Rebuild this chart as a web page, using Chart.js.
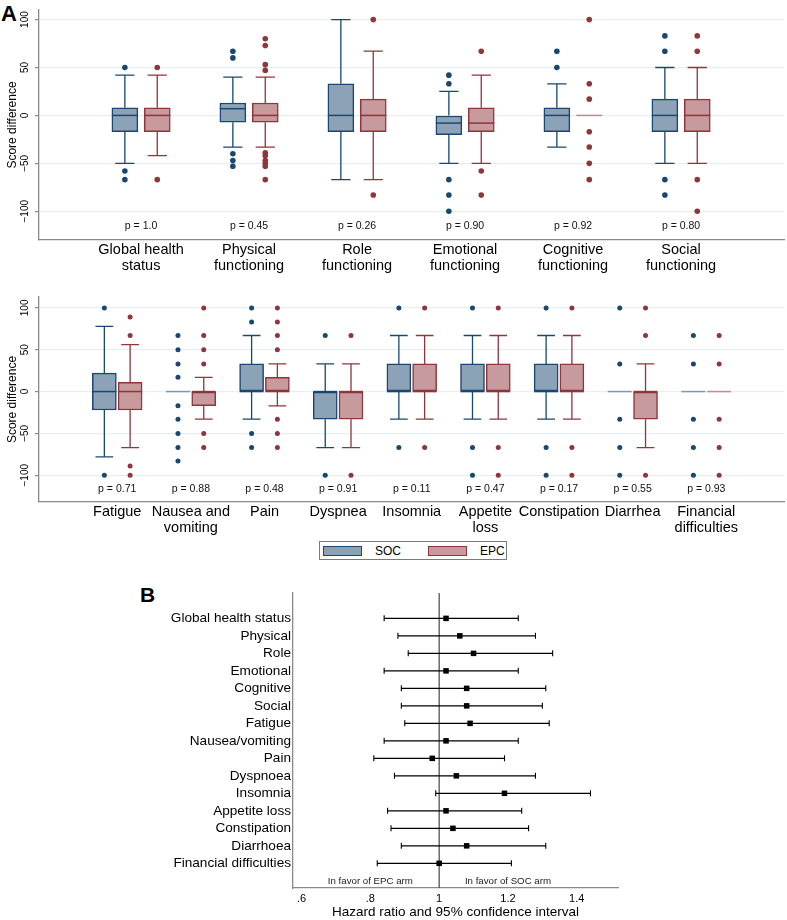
<!DOCTYPE html>
<html>
<head>
<meta charset="utf-8">
<script src="https://cdn.jsdelivr.net/npm/chart.js@4.4.1/dist/chart.umd.min.js"></script>
<style>
  body { margin: 0; background: #fff; font-family: 'Liberation Sans', Arial, Helvetica, sans-serif; }
  #wrap { position: relative; width: 787px; height: 920px; overflow: hidden; }
  canvas { position: absolute; left: 0; }
  .panel { position: absolute; font-weight: bold; color: #000; }
  #legend { position: absolute; left: 319px; top: 541px; width: 188px; height: 19px; box-sizing: border-box; border: 1px solid #7a7a7a; font-size: 12px; }
  #legend .sw { position: absolute; top: 4px; width: 37px; height: 8px; border: 1.5px solid; }
  #legend .lt { position: absolute; top: 2px; }
</style>
</head>
<body>
<div id="wrap">
  <div class="panel" style="left:1px;top:1px;font-size:22px;">A</div>
  <canvas id="top" width="787" height="275" style="top:0"></canvas>
  <canvas id="bottom" width="787" height="255" style="top:280px"></canvas>
  <div id="legend"></div>
  <div class="panel" style="left:140px;top:583px;font-size:21px;">B</div>
  <canvas id="forest" width="787" height="345" style="top:575px"></canvas>
</div>
<script>
// ---- panel A, top row ----
const domainsTop = [['Global health', 'status'], ['Physical', 'functioning'], ['Role', 'functioning'],
  ['Emotional', 'functioning'], ['Cognitive', 'functioning'], ['Social', 'functioning']];
const pTop = ['p = 1.0', 'p = 0.45', 'p = 0.26', 'p = 0.90', 'p = 0.92', 'p = 0.80'];
// [lower whisker, q1, median, q3, upper whisker]
const socTop = [[-50, -17, 0, 8, 42], [-33, -7, 7, 13, 40], [-67, -17, 0, 33, 100],
  [-50, -20, -8, 0, 25], [-33, -17, 0, 8, 33], [-50, -17, 0, 17, 50]];
const epcTop = [[-42, -17, 0, 8, 42], [-33, -7, 0, 13, 40], [-67, -17, 0, 17, 67],
  [-50, -17, -8, 8, 42], [0, 0, 0, 0, 0], [-50, -17, 0, 17, 50]];
const socTopOut = [[50, -58, -67], [67, 60, -40, -47, -53], [], [42, 33, -67, -83, -100], [67, 50], [83, 67, -67, -83]];
const epcTopOut = [[50, -67], [80, 73, 53, 47, -39, -42, -47, -50, -53, -67], [100, -83], [67, -58, -83],
  [100, 33, 17, -17, -33, -50, -67], [83, 67, -67, -100]];

// ---- panel A, bottom row ----
const domainsBottom = [['Fatigue'], ['Nausea and', 'vomiting'], ['Pain'], ['Dyspnea'], ['Insomnia'],
  ['Appetite', 'loss'], ['Constipation'], ['Diarrhea'], ['Financial', 'difficulties']];
const pBottom = ['p = 0.71', 'p = 0.88', 'p = 0.48', 'p = 0.91', 'p = 0.11', 'p = 0.47', 'p = 0.17', 'p = 0.55', 'p = 0.93'];
const socBottom = [[-78, -22, 0, 22, 78], [0, 0, 0, 0, 0], [-33, 0, 0, 33, 67], [-67, -33, 0, 0, 33],
  [-33, 0, 0, 33, 67], [-33, 0, 0, 33, 67], [-33, 0, 0, 33, 67], [0, 0, 0, 0, 0], [0, 0, 0, 0, 0]];
const epcBottom = [[-67, -22, 0, 11, 56], [-33, -17, 0, 0, 17], [-17, 0, 0, 17, 33], [-67, -33, 0, 0, 33],
  [-33, 0, 0, 33, 67], [-33, 0, 0, 33, 67], [-33, 0, 0, 33, 67], [-67, -33, 0, 0, 33], [0, 0, 0, 0, 0]];
const socBottomOut = [[100, -100], [67, 50, 33, 17, -17, -33, -50, -67, -83], [100, 83, -50, -67], [67, -100],
  [100, -67], [100, -67, -100], [100, -67, -100], [100, 33, -33, -67, -100], [67, 33, -33, -67, -100]];
const epcBottomOut = [[89, 67, -89, -100], [100, 67, 50, 33, -50, -67], [100, 83, 67, 50, -33, -50, -67], [67, -100],
  [100, -67], [100, -67, -100], [100, -67, -100], [100, 67, -100], [67, 33, -33, -67, -100]];

const scoreTicks = [-100, -50, 0, 50, 100];
const seriesNames = ['SOC', 'EPC'];

// ---- panel B ----
const hrNames = ['Global health status', 'Physical', 'Role', 'Emotional', 'Cognitive', 'Social', 'Fatigue',
  'Nausea/vomiting', 'Pain', 'Dyspnoea', 'Insomnia', 'Appetite loss', 'Constipation', 'Diarrhoea', 'Financial difficulties'];
const hrEst = [1.02, 1.06, 1.10, 1.02, 1.08, 1.08, 1.09, 1.02, 0.98, 1.05, 1.19, 1.02, 1.04, 1.08, 1.00];
const hrLow = [0.84, 0.88, 0.91, 0.84, 0.89, 0.89, 0.90, 0.84, 0.81, 0.87, 0.99, 0.85, 0.86, 0.89, 0.82];
const hrHigh = [1.23, 1.28, 1.33, 1.23, 1.31, 1.30, 1.32, 1.23, 1.19, 1.28, 1.44, 1.24, 1.26, 1.31, 1.21];
const hrTicks = [0.6, 0.8, 1, 1.2, 1.4];
const favorText = ['In favor of EPC arm', 'In favor of SOC arm'];

const FONT = "'Liberation Sans', Arial, Helvetica, sans-serif";
Chart.defaults.font.family = FONT;
Chart.defaults.color = '#000';

const NAVY = '#1a476f', NAVY_FILL = '#8ca3b7', NAVY_MID = '#7f98b0';
const MAROON = '#90353b', MAROON_FILL = '#c79a9d', MAROON_MID = '#c48a8e';
const AXIS = '#8a8a8a';

// legend
const legend = document.getElementById('legend');
[[NAVY_FILL, NAVY, 3, 55], [MAROON_FILL, MAROON, 108, 160]].forEach(([fill, line, sx, tx], k) => {
  legend.insertAdjacentHTML('beforeend',
    `<span class="sw" style="left:${sx}px;background:${fill};border-color:${line}"></span>` +
    `<span class="lt" style="left:${tx}px">${seriesNames[k]}</span>`);
});

function boxPlugin(cfg) {
  return {
    id: 'boxparts',
    afterDatasetsDraw(chart) {
      const { ctx, scales: { x, y } } = chart;
      const half = cfg.boxW / 2, cap = cfg.boxW * 0.37;
      ctx.save();
      [[cfg.soc, -cfg.off, NAVY, NAVY_MID], [cfg.epc, cfg.off, MAROON, MAROON_MID]].forEach(([stats, off, col, mid]) => {
        stats.forEach((s, i) => {
          const [lo, q1, med, q3, hi] = s;
          const cx = x.getPixelForValue(i + off);
          if (q1 === q3) {
            ctx.strokeStyle = mid;
            ctx.lineWidth = 1.5;
            ctx.beginPath();
            ctx.moveTo(cx - half, y.getPixelForValue(med));
            ctx.lineTo(cx + half, y.getPixelForValue(med));
            ctx.stroke();
            return;
          }
          ctx.strokeStyle = col;
          ctx.lineWidth = 1.3;
          ctx.beginPath();
          ctx.moveTo(cx, y.getPixelForValue(q3)); ctx.lineTo(cx, y.getPixelForValue(hi));
          ctx.moveTo(cx - cap, y.getPixelForValue(hi)); ctx.lineTo(cx + cap, y.getPixelForValue(hi));
          ctx.moveTo(cx, y.getPixelForValue(q1)); ctx.lineTo(cx, y.getPixelForValue(lo));
          ctx.moveTo(cx - cap, y.getPixelForValue(lo)); ctx.lineTo(cx + cap, y.getPixelForValue(lo));
          ctx.stroke();
          ctx.lineWidth = 1.5;
          ctx.beginPath();
          ctx.moveTo(cx - half, y.getPixelForValue(med)); ctx.lineTo(cx + half, y.getPixelForValue(med));
          ctx.stroke();
        });
      });
      ctx.fillStyle = '#111';
      ctx.font = '10.5px ' + FONT;
      ctx.textAlign = 'center';
      ctx.textBaseline = 'middle';
      cfg.pvals.forEach((p, i) => ctx.fillText(p, x.getPixelForValue(i), y.getPixelForValue(-116)));
      ctx.restore();
    }
  };
}

function makeBoxChart(id, cfg) {
  const boxes = (stats, off) => stats.flatMap((s, i) => s[1] === s[3] ? [] : [{ x: i + off, y: [s[1], s[3]] }]);
  const outs = (lists, off) => lists.flatMap((arr, i) => arr.map(v => ({ x: i + off, y: v })));
  const barStyle = { type: 'bar', borderWidth: 1.5, borderSkipped: false, grouped: false,
    barPercentage: 1, categoryPercentage: 1, maxBarThickness: cfg.boxW };
  const dotStyle = { type: 'scatter', borderWidth: 0, pointRadius: cfg.r, pointHoverRadius: cfg.r };
  new Chart(document.getElementById(id), {
    type: 'bar',
    data: {
      datasets: [
        { ...barStyle, label: seriesNames[0], data: boxes(cfg.soc, -cfg.off), backgroundColor: NAVY_FILL, borderColor: NAVY },
        { ...barStyle, label: seriesNames[1], data: boxes(cfg.epc, cfg.off), backgroundColor: MAROON_FILL, borderColor: MAROON },
        { ...dotStyle, data: outs(cfg.socOut, -cfg.off), backgroundColor: NAVY },
        { ...dotStyle, data: outs(cfg.epcOut, cfg.off), backgroundColor: MAROON }
      ]
    },
    options: {
      responsive: false,
      animation: false,
      events: [],
      layout: { padding: { top: cfg.padTop, right: 0, left: 0, bottom: 0 } },
      plugins: { legend: { display: false }, tooltip: { enabled: false } },
      scales: {
        x: {
          type: 'linear', min: cfg.xMin, max: cfg.xMax,
          afterBuildTicks: s => { s.ticks = cfg.domains.map((d, i) => ({ value: i })); },
          afterFit: s => { s.height = cfg.xAxisH; },
          grid: { display: false, drawTicks: false },
          border: { display: true, color: AXIS, width: 1.3 },
          ticks: { callback: v => cfg.domains[v], font: { size: 14.5, lineHeight: 1.1 }, color: '#000',
            padding: 2, maxRotation: 0, autoSkip: false }
        },
        y: {
          type: 'linear', min: cfg.yMin, max: cfg.yMax,
          afterBuildTicks: s => { s.ticks = scoreTicks.map(v => ({ value: v })); },
          afterFit: s => { s.width = 39; },
          grid: { color: '#e6eff1', lineWidth: 1.2, tickColor: AXIS, tickLength: 4 },
          border: { color: AXIS, width: 1.3 },
          ticks: { font: { size: 10 }, color: '#000', minRotation: 90, maxRotation: 90, crossAlign: 'center',
            padding: -2, autoSkip: false, callback: v => v < 0 ? '\u2212' + Math.abs(v) : String(v) },
          title: { display: true, text: 'Score difference', font: { size: 12 }, color: '#000', padding: { top: 5, bottom: 0 } }
        }
      }
    },
    plugins: [boxPlugin(cfg)]
  });
}

makeBoxChart('top', { domains: domainsTop, pvals: pTop, soc: socTop, epc: epcTop, socOut: socTopOut, epcOut: epcTopOut,
  xMin: -0.37, xMax: 5.38, off: 0.15, boxW: 26, r: 2.8, yMin: -130, yMax: 110, padTop: 10, xAxisH: 35 });
makeBoxChart('bottom', { domains: domainsBottom, pvals: pBottom, soc: socBottom, epc: epcBottom, socOut: socBottomOut, epcOut: epcBottomOut,
  xMin: -0.5, xMax: 8.5, off: 0.175, boxW: 24, r: 2.5, yMin: -132, yMax: 113, padTop: 17, xAxisH: 33 });

// ---- forest plot ----
const forestPlugin = {
  id: 'forestparts',
  beforeDatasetsDraw(chart) {
    const { ctx, chartArea, scales: { x, y } } = chart;
    ctx.save();
    ctx.strokeStyle = '#444';
    ctx.lineWidth = 1.2;
    ctx.beginPath();
    ctx.moveTo(x.getPixelForValue(1), chartArea.top);
    ctx.lineTo(x.getPixelForValue(1), chartArea.bottom);
    ctx.stroke();
    ctx.strokeStyle = '#000';
    ctx.lineWidth = 1.1;
    hrEst.forEach((v, i) => {
      const py = y.getPixelForValue(i);
      const x0 = x.getPixelForValue(hrLow[i]), x1 = x.getPixelForValue(hrHigh[i]);
      ctx.beginPath();
      ctx.moveTo(x0, py); ctx.lineTo(x1, py);
      ctx.moveTo(x0, py - 3); ctx.lineTo(x0, py + 3);
      ctx.moveTo(x1, py - 3); ctx.lineTo(x1, py + 3);
      ctx.stroke();
    });
    ctx.fillStyle = '#222';
    ctx.font = '9.7px ' + FONT;
    ctx.textAlign = 'center';
    ctx.textBaseline = 'middle';
    ctx.fillText(favorText[0], x.getPixelForValue(0.8), y.getPixelForValue(15));
    ctx.fillText(favorText[1], x.getPixelForValue(1.2), y.getPixelForValue(15));
    ctx.restore();
  }
};

new Chart(document.getElementById('forest'), {
  type: 'scatter',
  data: {
    datasets: [{ data: hrEst.map((v, i) => ({ x: v, y: i })), pointStyle: 'rect', pointRadius: 3.9,
      pointHoverRadius: 3.9, backgroundColor: '#000', borderWidth: 0 }]
  },
  options: {
    responsive: false,
    animation: false,
    events: [],
    layout: { padding: { top: 18, right: 169, left: 0, bottom: 0 } },
    plugins: { legend: { display: false }, tooltip: { enabled: false } },
    scales: {
      x: {
        type: 'linear', min: 0.575, max: 1.52,
        afterBuildTicks: s => { s.ticks = hrTicks.map(v => ({ value: v })); },
        afterFit: s => { s.height = 32; },
        grid: { display: false, drawTicks: false },
        border: { color: AXIS, width: 1.3 },
        ticks: { font: { size: 11 }, color: '#000', padding: 4, maxRotation: 0, autoSkip: false,
          callback: v => v === 1 ? '1' : String(v).replace(/^0/, '') },
        title: { display: true, text: 'Hazard ratio and 95% confidence interval', font: { size: 13.5 }, color: '#000',
          padding: { top: 0, bottom: 0 } }
      },
      y: {
        type: 'linear', reverse: true, min: -1.45, max: 15.41,
        afterBuildTicks: s => { s.ticks = hrNames.map((n, i) => ({ value: i })); },
        afterFit: s => { s.width = 293; },
        grid: { display: false, drawTicks: false },
        border: { color: AXIS, width: 1.3 },
        ticks: { font: { size: 13.6 }, color: '#000', padding: 2, autoSkip: false, callback: v => hrNames[v] }
      }
    }
  },
  plugins: [forestPlugin]
});
</script>
</body>
</html>
